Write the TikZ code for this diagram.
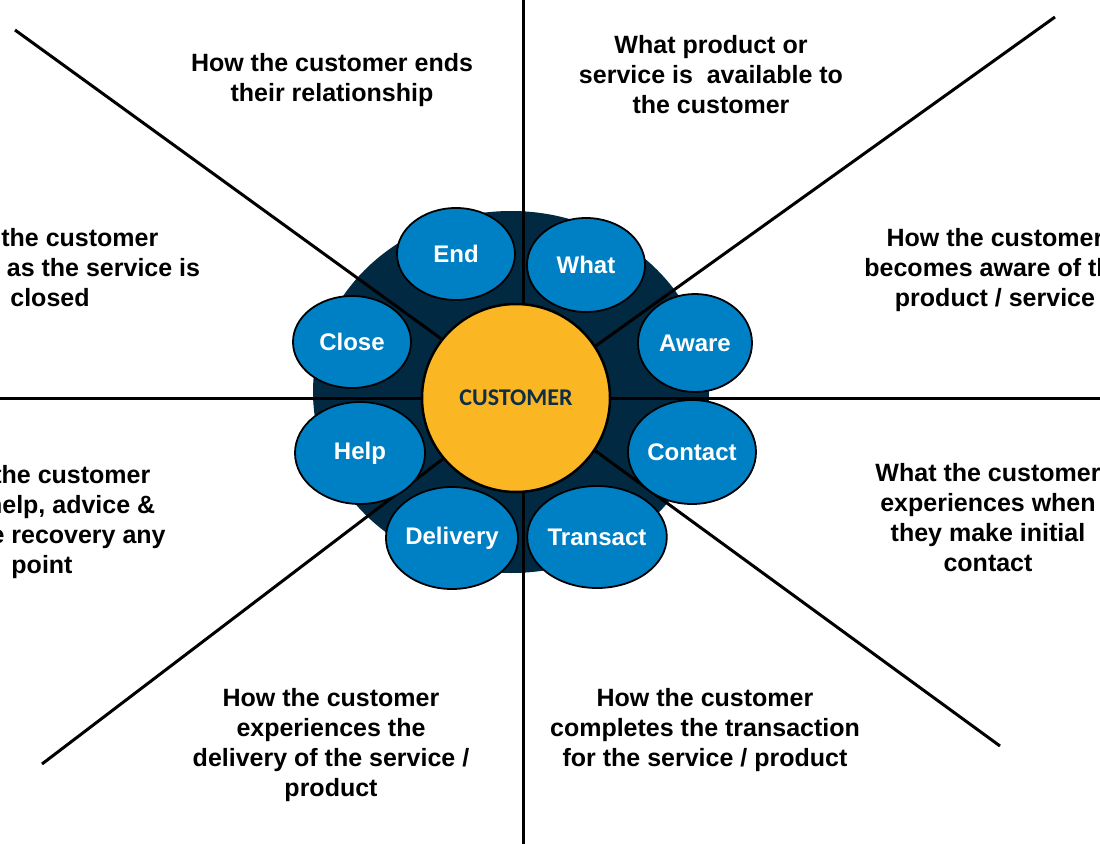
\documentclass[tikz,border=0pt]{standalone}
\usepackage{fontspec}
\setmainfont{Liberation Sans}
\newfontfamily\calibfont{Carlito}
\usetikzlibrary{shapes.geometric}
\definecolor{hubnavy}{RGB}{2,41,66}
\definecolor{petalblue}{RGB}{0,128,196}
\definecolor{custgold}{RGB}{251,182,36}
\definecolor{custtext}{RGB}{14,45,72}
\begin{document}
\begin{tikzpicture}[x=1bp,y=-1bp,
  petal/.style={ellipse, draw=black, line width=1.8bp, fill=petalblue, text=white,
    font=\bfseries\fontsize{24bp}{29bp}\selectfont, inner sep=0pt},
  caption/.style={align=center, anchor=base, inner sep=0pt, text=black,
    font=\bfseries\fontsize{25bp}{30bp}\selectfont},
  spoke/.style={line width=3bp, draw=black}]
\useasboundingbox (0,0) rectangle (1100,844);
\clip (0,0) rectangle (1100,844);
\fill[white] (0,0) rectangle (1100,844);

% hub background
\node[ellipse, fill=hubnavy, minimum width=396bp, minimum height=362bp, inner sep=0pt] (hub) at (511,392) {};

% spoke end points
\coordinate (c) at (523,398);
\coordinate (ptop) at (523,0);
\coordinate (pbot) at (523,844);
\coordinate (pleft) at (0,398);
\coordinate (pright) at (1100,398);
\coordinate (pul) at (15,30);
\coordinate (pur) at (1055,17);
\coordinate (pll) at (42,764);
\coordinate (plr) at (1000,746);

\draw[spoke] (ptop) -- (pbot);
\draw[spoke] (pleft) -- (pright);
\draw[spoke] (pul) -- (c);
\draw[spoke] (pur) -- (c);
\draw[spoke] (pll) -- (c);
\draw[spoke] (plr) -- (c);

% petals
\node[petal, minimum width=118bp, minimum height=92bp] (end) at (456,254) {End};
\node[petal, minimum width=118bp, minimum height=94bp] (what) at (586,265) {What};
\node[petal, minimum width=114bp, minimum height=98bp] (aware) at (695,343) {Aware};
\node[petal, minimum width=128bp, minimum height=104bp] (contact) at (692,452) {Contact};
\node[petal, minimum width=128bp, minimum height=102bp] (transact) at (597,537) {Transact};
\node[petal, minimum width=126bp, minimum height=102bp] (delivery) at (452,538) {Delivery};
\node[petal, minimum width=130bp, minimum height=102bp] (help) at (360,453) {Help};
\node[petal, minimum width=118bp, minimum height=92bp] (close) at (352,342) {Close};

% customer
\node[circle, draw=black, line width=2.5bp, fill=custgold, minimum size=188bp, inner sep=0pt,
  text=custtext, font=\calibfont\bfseries\fontsize{24bp}{29bp}\selectfont] (cust) at (516,398) {CUSTOMER};

% captions (base anchor = baseline of the last line)
\node[caption] (tEnd) at (332,101) {How the customer ends\\their relationship};
\node[caption] (tWhat) at (711,113) {What product or\\service is\ \ available to\\the customer};
\node[caption] (tAware) at (995,306) {How the customer\\becomes aware of the\\product / service};
\node[caption] (tContact) at (988,571) {What the customer\\experiences when\\they make initial\\contact};
\node[caption] (tTransact) at (705,766) {How the customer\\completes the transaction\\for the service / product};
\node[caption] (tDelivery) at (331,796) {How the customer\\experiences the\\delivery of the service /\\product};
\node[caption] (tHelp) at (42,573) {How the customer\\gets help, advice \&\\service recovery any\\point};
\node[caption] (tClose) at (50,306) {How the customer\\behaves as the service is\\closed};
\end{tikzpicture}
\end{document}
